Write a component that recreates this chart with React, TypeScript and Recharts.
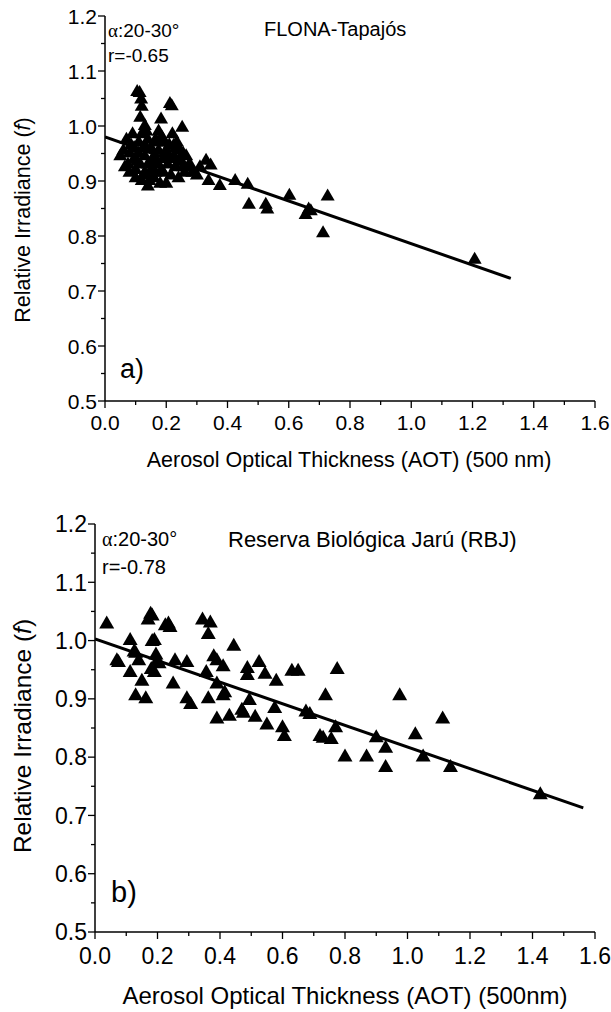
import { ScatterChart, Scatter, XAxis, YAxis } from "recharts";

// FLONA-Tapajós (panel a): AOT, relative irradiance
const aotA = [
  1.207, 0.712, 0.727, 0.602, 0.655, 0.665, 0.672, 0.47, 0.525, 0.53,
  0.466, 0.425, 0.375, 0.338, 0.33, 0.345, 0.3, 0.277, 0.255, 0.252,
  0.212, 0.218, 0.183, 0.105, 0.113, 0.118, 0.12, 0.115, 0.13, 0.135,
  0.05, 0.06, 0.07, 0.075, 0.08, 0.085, 0.09, 0.095, 0.1, 0.1,
  0.11, 0.11, 0.115, 0.12, 0.125, 0.13, 0.13, 0.14, 0.14, 0.145,
  0.15, 0.15, 0.16, 0.16, 0.165, 0.17, 0.175, 0.18, 0.185, 0.19,
  0.19, 0.195, 0.2, 0.2, 0.205, 0.21, 0.215, 0.22, 0.225, 0.23,
  0.235, 0.24, 0.245, 0.25, 0.26, 0.265, 0.27, 0.14, 0.17, 0.23,
  0.065, 0.08, 0.095, 0.105, 0.125, 0.135, 0.155, 0.165, 0.185, 0.195,
  0.21, 0.225, 0.24, 0.255, 0.285, 0.31, 0.12, 0.175,
];
const irrA = [
  0.757, 0.805, 0.872, 0.873, 0.838, 0.848, 0.845, 0.857, 0.857, 0.848,
  0.893, 0.9, 0.891, 0.9, 0.937, 0.928, 0.91, 0.93, 0.95, 0.997,
  1.04, 1.036, 1.012, 1.062, 1.06, 1.048, 1.035, 1.015, 1.0, 0.99,
  0.945, 0.955, 0.975, 0.93, 0.915, 0.965, 0.985, 0.94, 0.92, 0.905,
  0.97, 0.95, 0.93, 0.9, 0.96, 0.945, 0.915, 0.975, 0.93, 0.9,
  0.96, 0.92, 0.945, 0.905, 0.975, 0.93, 0.955, 0.895, 0.98, 0.94,
  0.915, 0.97, 0.895, 0.955, 0.93, 0.965, 0.91, 0.985, 0.945, 0.925,
  0.97, 0.905, 0.955, 0.935, 0.915, 0.945, 0.925, 0.89, 0.97, 0.96,
  0.925, 0.95, 0.96, 0.935, 0.91, 0.96, 0.935, 0.915, 0.92, 0.95,
  0.94, 0.965, 0.935, 0.925, 0.915, 0.925, 0.985, 0.99,
];
const fitAotA = [0, 1.325];
const fitIrrA = [0.98, 0.723];

// Reserva Biológica Jarú (panel b)
const aotB = [
  0.0375, 0.07, 0.075, 0.1125, 0.1125, 0.125, 0.13, 0.13, 0.14, 0.15,
  0.1625, 0.17, 0.178, 0.183, 0.183, 0.19, 0.18, 0.19, 0.195, 0.2,
  0.205, 0.225, 0.235, 0.24, 0.256, 0.25, 0.294, 0.294, 0.306, 0.344,
  0.369, 0.3625, 0.356, 0.3625, 0.38, 0.39, 0.39, 0.39, 0.41, 0.41,
  0.415, 0.43, 0.444, 0.47, 0.475, 0.4875, 0.4875, 0.494, 0.5125, 0.525,
  0.544, 0.55, 0.575, 0.58, 0.6, 0.606, 0.63, 0.65, 0.675, 0.6875,
  0.72, 0.73, 0.7375, 0.756, 0.77, 0.775, 0.8, 0.869, 0.9, 0.93,
  0.93, 0.975, 1.025, 1.05, 1.1125, 1.1375, 1.425,
];
const irrB = [
  1.028, 0.965, 0.962, 1.0, 0.945, 0.98, 0.978, 0.905, 0.965, 0.93,
  0.9, 1.035, 1.045, 1.042, 0.998, 1.0, 0.95, 0.945, 0.975, 0.965,
  0.96, 1.025, 1.028, 1.022, 0.965, 0.925, 0.962, 0.9, 0.89, 1.035,
  1.03, 1.01, 0.945, 0.9, 0.972, 0.965, 0.925, 0.865, 0.955, 0.905,
  0.91, 0.87, 0.99, 0.88, 0.875, 0.952, 0.94, 0.897, 0.868, 0.962,
  0.942, 0.855, 0.883, 0.93, 0.85, 0.835, 0.947, 0.947, 0.877, 0.873,
  0.835, 0.832, 0.905, 0.83, 0.85, 0.95, 0.8, 0.8, 0.833, 0.815,
  0.782, 0.905, 0.838, 0.8, 0.865, 0.782, 0.735,
];
const fitAotB = [0, 1.5625];
const fitIrrB = [1.003, 0.713];

const xTicks = [0, 0.1, 0.2, 0.3, 0.4, 0.5, 0.6, 0.7, 0.8, 0.9, 1.0, 1.1, 1.2, 1.3, 1.4, 1.5, 1.6];
const yTicks = [0.5, 0.55, 0.6, 0.65, 0.7, 0.75, 0.8, 0.85, 0.9, 0.95, 1.0, 1.05, 1.1, 1.15, 1.2];

const toPts = (xs: number[], ys: number[]) => xs.map((x, i) => ({ x, y: ys[i] }));

const FONT = "'Liberation Sans', Arial, sans-serif";

function makeTri(w: number, h: number) {
  return (p: any) => {
    const { cx, cy } = p;
    if (cx == null || cy == null) return <g />;
    return (
      <polygon
        points={`${cx - w / 2},${cy + h / 3} ${cx + w / 2},${cy + h / 3} ${cx},${cy - (2 * h) / 3}`}
        fill="#000"
      />
    );
  };
}

function makeXTick(fs: number, dy: number) {
  return (p: any) => {
    const v = p.payload.value;
    const major = Math.round(v * 10) % 2 === 0;
    return (
      <g>
        <line x1={p.x} x2={p.x} y1={p.y} y2={p.y + (major ? 7 : 4)} stroke="#000" strokeWidth={1.3} />
        {major && (
          <text x={p.x} y={p.y + dy} textAnchor="middle" fontSize={fs} fontFamily={FONT} fill="#000">
            {v.toFixed(1)}
          </text>
        )}
      </g>
    );
  };
}

function makeYTick(fs: number) {
  return (p: any) => {
    const v = p.payload.value;
    const major = Math.round(v * 100) % 10 === 0;
    return (
      <g>
        <line x1={p.x - (major ? 7 : 4)} x2={p.x} y1={p.y} y2={p.y} stroke="#000" strokeWidth={1.3} />
        {major && (
          <text x={p.x - 8} y={p.y} dy="0.36em" textAnchor="end" fontSize={fs} fontFamily={FONT} fill="#000">
            {v.toFixed(1)}
          </text>
        )}
      </g>
    );
  };
}

function Panel(props: {
  top: number;
  height: number;
  marginTop: number;
  yWidth: number;
  xHeight: number;
  pts: { x: number; y: number }[];
  fit: { x: number; y: number }[];
  tickFs: number;
  xDy: number;
  triW: number;
  triH: number;
}) {
  const { top, height, marginTop, yWidth, xHeight, pts, fit, tickFs, xDy, triW, triH } = props;
  return (
    <div style={{ position: "absolute", left: 0, top }}>
      <ScatterChart width={611} height={height} margin={{ top: marginTop, right: 16, bottom: 0, left: 0 }}>
        <XAxis
          type="number"
          dataKey="x"
          domain={[0, 1.6]}
          ticks={xTicks}
          interval={0}
          allowDataOverflow
          height={xHeight}
          tickSize={0}
          tickMargin={0}
          tickLine={false}
          axisLine={{ stroke: "#000", strokeWidth: 1.5 }}
          tick={makeXTick(tickFs, xDy)}
        />
        <YAxis
          type="number"
          dataKey="y"
          domain={[0.5, 1.2]}
          ticks={yTicks}
          interval={0}
          allowDataOverflow
          width={yWidth}
          tickSize={0}
          tickMargin={0}
          tickLine={false}
          axisLine={{ stroke: "#000", strokeWidth: 1.5 }}
          tick={makeYTick(tickFs)}
        />
        <Scatter data={pts} shape={makeTri(triW, triH)} isAnimationActive={false} />
        <Scatter
          data={fit}
          line={{ stroke: "#000", strokeWidth: 3 }}
          shape={() => <g />}
          isAnimationActive={false}
        />
      </ScatterChart>
    </div>
  );
}

export default function App() {
  return (
    <div style={{ position: "absolute", left: 0, top: 0, width: 611, height: 1012, background: "#fff" }}>
      <Panel
        top={0}
        height={480}
        marginTop={16}
        yWidth={105}
        xHeight={79}
        pts={toPts(aotA, irrA)}
        fit={toPts(fitAotA, fitIrrA)}
        tickFs={21}
        xDy={29}
        triW={14}
        triH={12}
      />
      <Panel
        top={480}
        height={532}
        marginTop={44}
        yWidth={95}
        xHeight={80}
        pts={toPts(aotB, irrB)}
        fit={toPts(fitAotB, fitIrrB)}
        tickFs={23}
        xDy={32}
        triW={15}
        triH={13}
      />
      <svg width={611} height={1012} style={{ position: "absolute", left: 0, top: 0, pointerEvents: "none" }}>
        <g fontFamily={FONT} fill="#000">
          <text x={108} y={37} fontSize={19}>
            <tspan fontFamily="'Liberation Serif', serif">α</tspan>:20-30°
          </text>
          <text x={108} y={62} fontSize={19}>r=-0.65</text>
          <text x={264} y={36} fontSize={20}>FLONA-Tapajós</text>
          <text x={120} y={378} fontSize={27}>a)</text>
          <text x={0} y={0} fontSize={21.5} textAnchor="middle" transform="translate(30,220) rotate(-90)">
            Relative Irradiance (<tspan fontStyle="italic">f</tspan>)
          </text>
          <text x={349} y={467} fontSize={21.5} textAnchor="middle">Aerosol Optical Thickness (AOT) (500 nm)</text>

          <text x={102} y={546} fontSize={20}>
            <tspan fontFamily="'Liberation Serif', serif">α</tspan>:20-30°
          </text>
          <text x={102} y={574} fontSize={20}>r=-0.78</text>
          <text x={228} y={547} fontSize={22}>Reserva Biológica Jarú (RBJ)</text>
          <text x={111} y={902} fontSize={29}>b)</text>
          <text x={0} y={0} fontSize={24.5} textAnchor="middle" transform="translate(31,736) rotate(-90)">
            Relative Irradiance (<tspan fontStyle="italic">f</tspan>)
          </text>
          <text x={345} y={1004} fontSize={24} textAnchor="middle">Aerosol Optical Thickness (AOT) (500nm)</text>
        </g>
      </svg>
    </div>
  );
}
